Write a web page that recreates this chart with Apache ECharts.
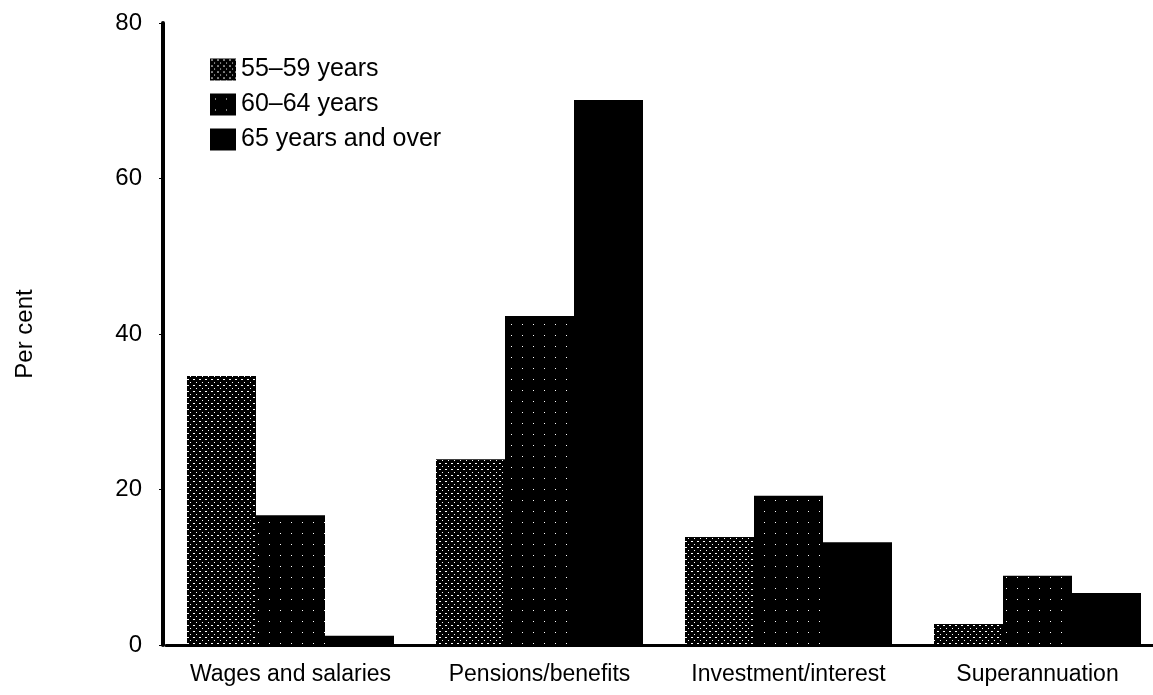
<!DOCTYPE html>
<html>
<head>
<meta charset="utf-8">
<script src="https://cdn.jsdelivr.net/npm/echarts@6/dist/echarts.min.js"></script>
<style>
  html, body { margin: 0; padding: 0; background: #fff; }
  #chart { width: 1153px; height: 695px; }
</style>
</head>
<body>
<div id="chart"></div>
<script>
// data
var categories = ['Wages and salaries', 'Pensions/benefits', 'Investment/interest', 'Superannuation'];
var seriesNames = ['55\u201359 years', '60\u201364 years', '65 years and over'];
var age5559 = [34.6, 23.9, 13.9, 2.7];
var age6064 = [16.7, 42.3, 19.2, 8.9];
var age65plus = [1.2, 70.1, 13.2, 6.7];

// stipple fills like the printed halftone
function makePattern(size, dots) {
    var c = document.createElement('canvas');
    c.width = size;
    c.height = size;
    var ctx = c.getContext('2d');
    ctx.fillStyle = '#000';
    ctx.fillRect(0, 0, size, size);
    ctx.fillStyle = '#fff';
    dots.forEach(function (d) { ctx.fillRect(d[0], d[1], d[2], d[3]); });
    return { image: c, repeat: 'repeat' };
}
var fill5559 = makePattern(6, [[1, 1, 2, 1], [4, 4, 1, 1]]);
var fill6064 = makePattern(11, [[5, 5, 1, 1]]);

var fontFamily = '"Liberation Sans", Arial, sans-serif';

var myChart = echarts.init(document.getElementById('chart'));
var option = {
    backgroundColor: '#fff',
    animation: false,
    textStyle: { fontFamily: fontFamily, color: '#000' },
    legend: {
        orient: 'vertical',
        left: 205,
        top: 52,
        itemWidth: 26,
        itemHeight: 22,
        itemGap: 10,
        icon: 'rect',
        textStyle: { fontSize: 25, color: '#000', fontFamily: fontFamily },
        data: seriesNames
    },
    grid: {
        left: 166,
        width: 996,
        top: 23,
        bottom: 50,
        outerBoundsMode: 'none'
    },
    xAxis: {
        type: 'category',
        data: categories,
        axisLine: { lineStyle: { color: '#000', width: 3 } },
        axisTick: { show: false },
        axisLabel: { interval: 0, fontSize: 23, color: '#000', margin: 18, fontFamily: fontFamily }
    },
    yAxis: {
        type: 'value',
        min: 0,
        max: 80,
        interval: 20,
        offset: 3,
        name: 'Per cent',
        nameLocation: 'middle',
        nameRotate: 90,
        nameGap: 126,
        nameTextStyle: { fontSize: 24, color: '#000', fontFamily: fontFamily },
        axisLine: { show: true, lineStyle: { color: '#000', width: 4 } },
        axisTick: { show: true, length: 4, lineStyle: { color: '#000' } },
        axisLabel: { fontSize: 24, color: '#000', margin: 21, fontFamily: fontFamily },
        splitLine: { show: false }
    },
    series: [
        {
            name: seriesNames[0],
            type: 'bar',
            barWidth: 69,
            barGap: '0%',
            itemStyle: { color: fill5559 },
            data: age5559
        },
        {
            name: seriesNames[1],
            type: 'bar',
            barWidth: 69,
            barGap: '0%',
            itemStyle: { color: fill6064 },
            data: age6064
        },
        {
            name: seriesNames[2],
            type: 'bar',
            barWidth: 69,
            barGap: '0%',
            itemStyle: { color: '#000' },
            data: age65plus
        }
    ]
};
myChart.setOption(option);
</script>
</body>
</html>
